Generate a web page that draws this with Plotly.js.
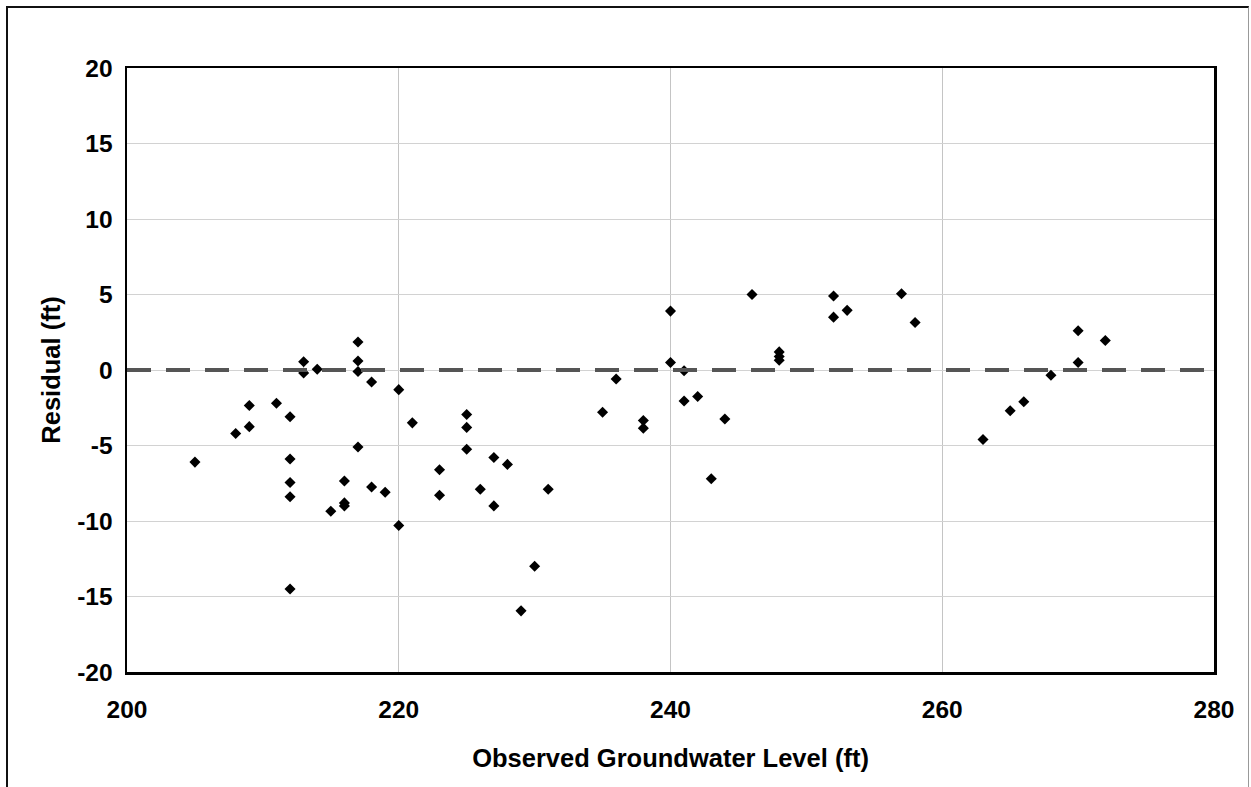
<!DOCTYPE html>
<html>
<head>
<meta charset="utf-8">
<script src="https://cdn.plot.ly/plotly-3.0.1.min.js"></script>
<style>
  html, body { margin: 0; padding: 0; background: #fff; }
  #wrap { position: relative; width: 1251px; height: 787px; overflow: hidden; }
  #chart { width: 1251px; height: 787px; }
  #frame { position: absolute; left: 6px; top: 6px; width: 1240px; height: 800px;
           border-top: 2px solid #111; border-left: 2px solid #111; border-right: 1px solid #999;
           pointer-events: none; }
</style>
</head>
<body>
<div id="wrap">
  <div id="chart"></div>
  <div id="frame"></div>
</div>
<script>
// Observed groundwater level (ft)
const observedLevel = [
  205, 208, 209, 209, 211, 212, 212, 212, 212, 212,
  213, 213, 214, 215, 216, 216, 216, 217, 217, 217,
  217, 218, 218, 219, 220, 220, 221, 223, 223, 225,
  225, 225, 226, 227, 227, 228, 229, 230, 231, 235,
  236, 238, 238, 240, 240, 241, 241, 242, 243, 244,
  246, 248, 248, 248, 252, 252, 253, 257, 258, 263,
  265, 266, 268, 270, 270, 272
];
// Residual (ft)
const residual = [
  -6.1, -4.2, -3.75, -2.35, -2.2, -3.1, -5.9, -7.45, -8.4, -14.5,
  0.55, -0.2, 0.05, -9.35, -7.35, -8.8, -9.0, 1.85, 0.6, -0.1,
  -5.1, -0.8, -7.75, -8.1, -1.3, -10.3, -3.5, -6.6, -8.3, -2.95,
  -3.8, -5.25, -7.9, -5.8, -9.0, -6.25, -15.95, -13.0, -7.9, -2.8,
  -0.6, -3.35, -3.85, 3.9, 0.5, -0.05, -2.05, -1.75, -7.2, -3.25,
  5.0, 1.2, 0.9, 0.65, 4.9, 3.5, 3.95, 5.05, 3.15, -4.6,
  -2.7, -2.1, -0.35, 2.6, 0.5, 1.95
];
const xTicks = [200, 220, 240, 260, 280];
const yTicks = [-20, -15, -10, -5, 0, 5, 10, 15, 20];
const zeroLevel = 0;

const FONT = '"Liberation Sans", Arial, sans-serif';

const trace = {
  x: observedLevel,
  y: residual,
  type: 'scatter',
  mode: 'markers',
  marker: { symbol: 'diamond', size: 8.5, color: '#000' },
  showlegend: false,
  hoverinfo: 'x+y'
};

const layout = {
  width: 1251,
  height: 787,
  margin: { l: 127, r: 37, t: 68, b: 115 },
  paper_bgcolor: '#fff',
  plot_bgcolor: '#fff',
  font: { family: FONT, color: '#000' },
  xaxis: {
    range: [xTicks[0], xTicks[xTicks.length - 1]],
    tickvals: xTicks,
    ticktext: xTicks.map(String),
    tickfont: { family: FONT, size: 24.5, color: '#000', weight: 'bold' },
    ticks: 'outside', ticklen: 14, tickcolor: 'rgba(0,0,0,0)',
    showgrid: true, gridcolor: '#c4c4c4', gridwidth: 1,
    zeroline: false,
    showline: true, mirror: true, linecolor: '#000', linewidth: 2.5,
    title: { text: '<b>Observed Groundwater Level (ft)</b>', font: { family: FONT, size: 25.5, color: '#000' }, standoff: 27 },
    automargin: false,
    fixedrange: true
  },
  yaxis: {
    range: [yTicks[0], yTicks[yTicks.length - 1]],
    tickvals: yTicks,
    ticktext: yTicks.map(String),
    tickfont: { family: FONT, size: 24.5, color: '#000', weight: 'bold' },
    ticks: 'outside', ticklen: 7, tickcolor: 'rgba(0,0,0,0)',
    showgrid: true, gridcolor: '#d2d2d2', gridwidth: 1,
    zeroline: false,
    showline: true, mirror: true, linecolor: '#000', linewidth: 2.5,
    title: { text: '<b>Residual (ft)</b>', font: { family: FONT, size: 25.5, color: '#000' }, standoff: 10 },
    automargin: false,
    fixedrange: true
  },
  shapes: [{
    type: 'line', xref: 'paper', x0: 0, x1: 1, yref: 'y', y0: zeroLevel, y1: zeroLevel,
    line: { color: '#555', width: 4, dash: '24px,15px' }, layer: 'above'
  }]
};

Plotly.newPlot('chart', [trace], layout, { staticPlot: true, displayModeBar: false });
</script>
</body>
</html>
